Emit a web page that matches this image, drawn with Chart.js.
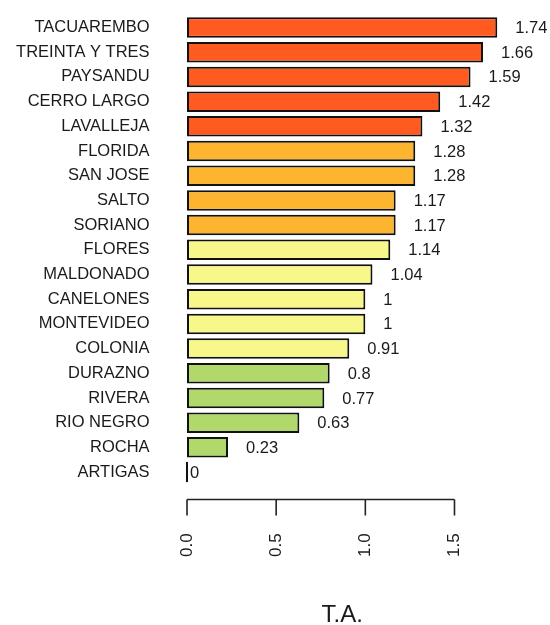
<!DOCTYPE html>
<html>
<head>
<meta charset="utf-8">
<script src="https://cdn.jsdelivr.net/npm/chart.js@4.4.1/dist/chart.umd.min.js"></script>
<style>
  body { margin: 0; background: #ffffff; }
  canvas { display: block; }
</style>
</head>
<body>
<canvas id="chartId" width="550" height="625"></canvas>
<script>
var departments = ["TACUAREMBO", "TREINTA Y TRES", "PAYSANDU", "CERRO LARGO", "LAVALLEJA",
    "FLORIDA", "SAN JOSE", "SALTO", "SORIANO", "FLORES", "MALDONADO", "CANELONES",
    "MONTEVIDEO", "COLONIA", "DURAZNO", "RIVERA", "RIO NEGRO", "ROCHA", "ARTIGAS"];
var rates = [1.74, 1.66, 1.59, 1.42, 1.32, 1.28, 1.28, 1.17, 1.17, 1.14, 1.04, 1, 1, 0.91,
    0.8, 0.77, 0.63, 0.23, 0];
var groups = [0, 0, 0, 0, 0, 1, 1, 1, 1, 2, 2, 2, 2, 2, 3, 3, 3, 3, 3];
var groupColors = ["#FF5A1F", "#FDB52F", "#F8F88A", "#B0D86B"];
var xTicks = [0, 0.5, 1.0, 1.5];

var textColor = "#1a1a1a";
var fontFamily = "'Liberation Sans', Arial, sans-serif";

// R style axis: line only from first to last tick, a bit below the bars
var axisPlugin = {
    id: "axisPlugin",
    afterDraw: function(chart) {
        var ctx = chart.ctx;
        var x = chart.scales.x;
        var y = 499.5;
        ctx.save();
        ctx.strokeStyle = "#222";
        ctx.lineWidth = 1.6;
        ctx.beginPath();
        ctx.moveTo(x.getPixelForValue(xTicks[0]), y);
        ctx.lineTo(x.getPixelForValue(xTicks[xTicks.length - 1]), y);
        xTicks.forEach(function(v) {
            var px = x.getPixelForValue(v);
            ctx.moveTo(px, y);
            ctx.lineTo(px, y + 16);
        });
        ctx.stroke();
        ctx.restore();
    }
};

var valueLabels = {
    id: "valueLabels",
    afterDatasetsDraw: function(chart) {
        var ctx = chart.ctx;
        var x = chart.scales.x;
        var meta = chart.getDatasetMeta(0);
        ctx.save();
        ctx.font = "16.5px " + fontFamily;
        ctx.fillStyle = textColor;
        ctx.textAlign = "left";
        ctx.textBaseline = "middle";
        meta.data.forEach(function(bar, i) {
            var v = rates[i];
            var px = x.getPixelForValue(v) + (v > 0 ? 18 : 3);
            ctx.fillText(String(v), px, bar.y + 1);
        });
        ctx.restore();
    }
};

var chart = new Chart(document.getElementById("chartId").getContext("2d"), {
    type: "bar",
    data: {
        labels: departments,
        datasets: [{
            data: rates,
            backgroundColor: groups.map(function(g) { return groupColors[g]; }),
            borderColor: "#111",
            borderWidth: 2,
            borderSkipped: false,
            minBarLength: 2,
            barPercentage: 0.83,
            categoryPercentage: 1
        }]
    },
    options: {
        indexAxis: "y",
        responsive: false,
        animation: false,
        layout: {
            padding: { left: 0, right: 40.3, top: 15.2, bottom: 0 }
        },
        plugins: {
            legend: { display: false },
            tooltip: { enabled: false }
        },
        scales: {
            x: {
                type: "linear",
                min: -0.0696,
                max: 1.8096,
                grid: { display: false, drawTicks: false },
                border: { display: false },
                afterBuildTicks: function(scale) {
                    scale.ticks = xTicks.map(function(v) { return { value: v }; });
                },
                afterFit: function(scale) {
                    scale.height = 140.6;
                    scale.paddingLeft = 0;
                    scale.paddingRight = 0;
                },
                ticks: {
                    autoSkip: false,
                    minRotation: 90,
                    maxRotation: 90,
                    padding: 49,
                    color: textColor,
                    font: { family: fontFamily, size: 17 },
                    callback: function(value) {
                        return Number(value).toFixed(1);
                    }
                },
                title: {
                    display: true,
                    text: "T.A.",
                    color: textColor,
                    font: { family: fontFamily, size: 24, lineHeight: 0.8 },
                    padding: { top: 0, bottom: 0 }
                }
            },
            y: {
                grid: { display: false, drawTicks: false },
                border: { display: false },
                afterFit: function(scale) {
                    scale.width = 174.6;
                    scale.paddingTop = 0;
                    scale.paddingBottom = 0;
                },
                ticks: {
                    autoSkip: false,
                    padding: 25,
                    color: textColor,
                    font: { family: fontFamily, size: 16.5 }
                }
            }
        }
    },
    plugins: [axisPlugin, valueLabels]
});
</script>
</body>
</html>
